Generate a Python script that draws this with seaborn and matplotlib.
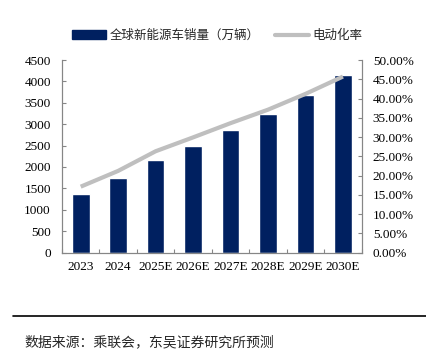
import seaborn as sns
import matplotlib.pyplot as plt
import matplotlib.ticker as mtick
from matplotlib.patches import Patch
from matplotlib.lines import Line2D

years = ['2023', '2024', '2025E', '2026E', '2027E', '2028E', '2029E', '2030E']
sales = [1365, 1730, 2170, 2490, 2855, 3245, 3690, 4160]
ev_rate = [17.1, 21.2, 26.3, 29.9, 33.6, 37.1, 41.2, 45.7]
bar_label = '全球新能源车销量（万辆）'
line_label = '电动化率'
source = '数据来源：乘联会，东吴证券研究所预测'

sns.set_theme(style='white')
plt.rcParams['font.family'] = ['Liberation Serif', 'Noto Sans CJK SC']
plt.rcParams['axes.unicode_minus'] = False

navy = '#002060'
grey = '#bfbfbf'
axc = '#868686'

fig = plt.figure(figsize=(4.26, 3.53), dpi=100)
ax = fig.add_axes([0.1455, 0.2847, 0.7035, 0.5453])

sns.barplot(x=years, y=sales, color=navy, width=0.47, saturation=1, ax=ax)
ax.set_ylim(0, 4500)
ax.set_yticks(range(0, 4501, 500))
ax.set_xlim(-0.5, 7.5)

ax2 = ax.twinx()
sns.pointplot(x=years, y=[r / 100 for r in ev_rate], color=grey, markers='',
              linewidth=3, solid_capstyle='butt', ax=ax2)
ax2.set_ylim(0, 0.5)
ax2.set_yticks([i * 0.05 for i in range(11)])
ax2.yaxis.set_major_formatter(mtick.PercentFormatter(1.0, decimals=2))
ax2.set_xlim(-0.5, 7.5)

for a in (ax, ax2):
    for s in a.spines.values():
        s.set_color(axc)
        s.set_linewidth(0.8)
    a.spines['top'].set_visible(False)
    a.set_xlabel('')
    a.set_ylabel('')
    a.tick_params(axis='both', labelsize=9.5, colors=axc, labelcolor='black',
                  direction='in', length=3, width=0.8)
    a.tick_params(axis='y', pad=8)

# x ticks sit between categories
ax.set_xticks([i + 0.5 for i in range(-1, 8)], minor=True)
ax.tick_params(axis='x', which='major', length=0, pad=6)
ax.tick_params(axis='x', which='minor', direction='in', length=3, width=0.8,
               color=axc, bottom=True)
ax2.tick_params(axis='x', length=0)

handles = [Patch(facecolor=navy, edgecolor=navy),
           Line2D([0], [0], color=grey, lw=3)]
fig.legend(handles, [bar_label, line_label], loc='center',
           bbox_to_anchor=(0.51, 0.898), ncol=2, frameon=False,
           prop={'size': 9}, handlelength=2.7, handleheight=0.7,
           columnspacing=1.2, handletextpad=0.3)

fig.add_artist(Line2D([0.03, 1.0], [0.106, 0.106], color='black', lw=1.2,
                      transform=fig.transFigure))
fig.text(0.058, 0.034, source, fontsize=10, ha='left', va='center_baseline')

fig.savefig('out.png', dpi=100)
